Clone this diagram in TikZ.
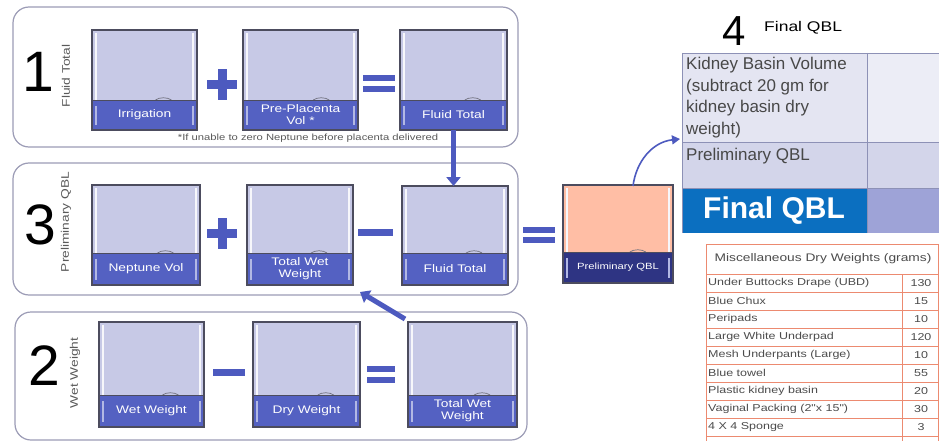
\documentclass[tikz,border=0pt]{standalone}
\usepackage{fontspec}
\setmainfont{Liberation Sans}
\newfontfamily\widefont{Liberation Sans}[FakeStretch=1.25]
\usetikzlibrary{arrows.meta,calc}
\definecolor{lav}{HTML}{C7C9E6}
\definecolor{bandc}{HTML}{5461C2}
\definecolor{edgec}{HTML}{4C4C5E}
\definecolor{opc}{HTML}{4D5ABF}
\definecolor{panelc}{HTML}{9C9CB6}
\definecolor{pinkc}{HTML}{FFBEA5}
\definecolor{navyc}{HTML}{2E3483}
\definecolor{gridc}{HTML}{8D91B6}
\definecolor{misc}{HTML}{EC8A70}
\definecolor{txtc}{HTML}{5A5A5A}
\definecolor{tA}{HTML}{E4E5F2}
\definecolor{tB}{HTML}{ECEDF6}
\definecolor{tC}{HTML}{D3D5EA}
\definecolor{tD}{HTML}{0B6FC0}
\definecolor{tE}{HTML}{9EA3D7}
\newcommand{\myfs}[2]{\fontsize{#1}{#2}\selectfont}
\tikzset{
  stripc/.style={draw=white!85!lav, line width=1.2pt},
  bstrip/.style={draw=white!55!bandc, line width=1.2pt},
  hump/.style={draw=edgec!80, line width=0.7pt},
  bandtop/.style={draw=edgec, line width=0.8pt},
  jaredge/.style={draw=edgec, line width=1.1pt, inner sep=0pt, outer sep=0pt},
  boxlabel/.style={text=white, align=center, font=\widefont\myfs{11}{12}, inner sep=0pt},
  panel/.style={draw=panelc, line width=1.2pt, rounded corners=16pt, inner sep=0pt, outer sep=0pt},
  digit/.style={font=\myfs{57}{57}, inner sep=0pt},
  sidelabel/.style={font=\widefont\myfs{11}{11}, text=txtc, rotate=90, inner sep=0pt},
  opfill/.style={fill=opc},
  thickarrow/.style={draw=opc, line width=5pt, -{Triangle[length=9pt,width=14pt]}},
  thinarrow/.style={draw=opc, line width=1.6pt, -{Triangle[length=8pt,width=9pt]}},
  grid/.style={draw=gridc, line width=0.8pt},
  mline/.style={draw=misc, line width=0.9pt},
  mtext/.style={font=\widefont\myfs{10}{10}, text=txtc!85!black, inner sep=0pt},
}
% name, x, y, w, h, band height, label, top fill, band fill
\newcommand{\jar}[9]{%
  \fill[#8] (#2,#3) rectangle (#2+#4,#3+#5);
  \fill[#9] (#2,#3+#5-#6) rectangle (#2+#4,#3+#5);
  \draw[stripc] (#2+4,#3+3) -- (#2+4,#3+#5-#6);
  \draw[stripc] (#2+#4-4,#3+3) -- (#2+#4-4,#3+#5-#6);
  \draw[bstrip] (#2+4,#3+#5-#6+6) -- (#2+4,#3+#5-5);
  \draw[bstrip] (#2+#4-4,#3+#5-#6+6) -- (#2+#4-4,#3+#5-5);
  \draw[hump] (#2+0.68*#4-8,#3+#5-#6) .. controls (#2+0.68*#4-4,#3+#5-#6-3) and (#2+0.68*#4+4,#3+#5-#6-3) .. (#2+0.68*#4+8,#3+#5-#6);
  \draw[bandtop] (#2,#3+#5-#6) -- (#2+#4,#3+#5-#6);
  \node[jaredge, minimum width=#4pt, minimum height=#5pt, anchor=north west] (#1) at (#2,#3) {};
  \node[boxlabel] (#1t) at (#2+#4/2,#3+#5-#6/2) {#7};
}
\begin{document}
\begin{tikzpicture}[x=1pt,y=-1pt]
\useasboundingbox (0,0) rectangle (939,441);
\clip (0,0) rectangle (939,441);
\fill[white] (0,0) rectangle (939,441);

% panels
\node[panel, minimum width=505pt, minimum height=140pt, anchor=north west] (p1) at (13,7) {};
\node[panel, minimum width=505pt, minimum height=132pt, anchor=north west] (p3) at (13,163) {};
\node[panel, minimum width=512pt, minimum height=128pt, anchor=north west] (p2) at (15,312) {};

% digits and side labels
\node[digit] (n1) at (38,72) {1};
\node[digit] (n3) at (40,225) {3};
\node[digit] (n2) at (44,366) {2};
\node[sidelabel] (s1) at (66,76) {Fluid Total};
\node[sidelabel] (s3) at (66,222) {Preliminary QBL};
\node[sidelabel] (s2) at (75,373) {Wet Weight};

% row 1
\jar{a1}{92}{30}{105}{100}{30}{Irrigation}{lav}{bandc}
\jar{b1}{243}{30}{115}{100}{30}{Pre-Placenta\\Vol *}{lav}{bandc}
\jar{c1}{400}{30}{107}{100}{30}{Fluid Total}{lav}{bandc}
\fill[opfill] (207,80) rectangle (237,89);
\fill[opfill] (217.5,69) rectangle (226.5,100);
\fill[opfill] (363,75) rectangle (395,81);
\fill[opfill] (363,86) rectangle (395,92);
\node[font=\widefont\myfs{9}{9}, text=txtc, inner sep=0pt] (fn) at (308,138) {*If unable to zero Neptune before placenta delivered};

% row 3
\jar{a3}{92}{185}{108}{100}{32}{Neptune Vol}{lav}{bandc}
\jar{b3}{247}{185}{106}{100}{32}{Total Wet\\Weight}{lav}{bandc}
\jar{c3}{402}{186}{106}{99}{32}{Fluid Total}{lav}{bandc}
\fill[opfill] (207,229) rectangle (237,238);
\fill[opfill] (217.5,218) rectangle (226.5,249);
\fill[opfill] (358,229) rectangle (393,236);

% row 2
\jar{a2}{99}{322}{105}{105}{32}{Wet Weight}{lav}{bandc}
\jar{b2}{253}{322}{107}{105}{32}{Dry Weight}{lav}{bandc}
\jar{c2}{408}{322}{109}{105}{32}{Total Wet\\Weight}{lav}{bandc}
\fill[opfill] (213,369) rectangle (245,376);
\fill[opfill] (367,366) rectangle (395,372);
\fill[opfill] (367,377) rectangle (395,383);

% big equals and preliminary box
\fill[opfill] (523,227) rectangle (555,233);
\fill[opfill] (523,237) rectangle (555,243);
\jar{pk}{563}{185}{110}{98}{31}{\myfs{9}{9}Preliminary QBL}{pinkc}{navyc}

% arrows
\draw[thickarrow] (c1.south) -- (c1.south |- c3.north);
\draw[thickarrow] ($(c2.north west)+(-3,-3)$) -- ($(b3.south east)+(7,7)$);

% final QBL table
\fill[tA] (682,53) rectangle (867,142);
\fill[tB] (867,53) rectangle (945,142);
\fill[tC] (682,142) rectangle (945,188);
\fill[tD] (682,188) rectangle (867,233);
\fill[tE] (867,188) rectangle (945,233);
\draw[grid] (682,53) -- (945,53);
\draw[grid] (682,142) -- (945,142);
\draw[grid] (682,188) -- (945,188);
\draw[grid] (682,53) -- (682,233);
\draw[grid] (867,53) -- (867,233);
\node[anchor=north west, align=left, font=\myfs{17}{21.5}, text=txtc!80!black, inner sep=0pt] (k1) at (686,57) {Kidney Basin Volume\\(subtract 20 gm for\\kidney basin dry\\weight)};
\node[anchor=north west, font=\myfs{17}{21}, text=txtc!80!black, inner sep=0pt] (k2) at (686,148) {Preliminary QBL};
\node[font=\bfseries\myfs{30}{30}, text=white, inner sep=0pt] (k3) at (774,211) {Final QBL};
\node[font=\myfs{42}{42}, inner sep=0pt] (n4) at (734,31) {4};
\node[anchor=west, font=\widefont\myfs{14}{14}, inner sep=0pt] (t4) at (764,28) {Final QBL};
\coordinate (tend) at (680,139);
\draw[thinarrow] (633,186) .. controls (636,162) and (652,142) .. (tend);

% miscellaneous dry weights table
\draw[mline] (706,244) rectangle (938,460);
\draw[mline] (706,274) -- (938,274);
\draw[mline] (902,274) -- (902,460);
\node[mtext, font=\widefont\myfs{11}{11}] (mh) at (823,259) {Miscellaneous Dry Weights (grams)};
\foreach \lab/\val [count=\i] in {Under Buttocks Drape (UBD)/130, Blue Chux/15, Peripads/10, Large White Underpad/120, Mesh Underpants (Large)/10, Blue towel/55, Plastic kidney basin/20, Vaginal Packing (2"x 15")/30, 4 X 4 Sponge/3}{
  \draw[mline] (706,274+18*\i) -- (938,274+18*\i);
  \node[mtext, anchor=west] (ml\i) at (708,265+18*\i) {\lab};
  \node[mtext] (mv\i) at (921,265+18*\i) {\val};
}
\end{tikzpicture}
\end{document}
